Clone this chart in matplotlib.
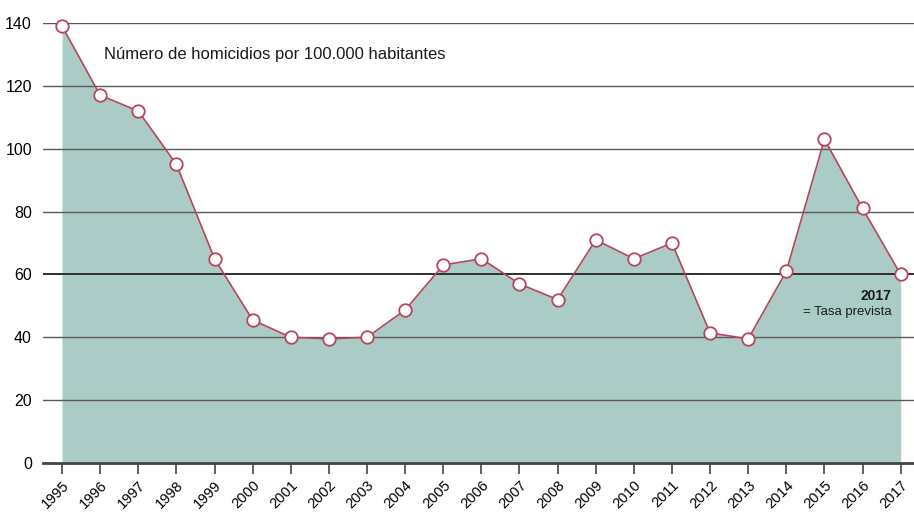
import matplotlib
matplotlib.use("Agg")
import matplotlib.pyplot as plt

plt.rcParams['font.family'] = ['Liberation Sans', 'DejaVu Sans']

# Datos
years = list(range(1995, 2018))
tasa = [139, 117, 112, 95, 65, 45.5, 40, 39.5, 40, 48.7, 63, 65, 57, 52,
        71, 65, 70, 41.4, 39.5, 61, 103, 81, 60]
yticks = [0, 20, 40, 60, 80, 100, 120, 140]

fill_color = "#abccc6"
line_color = "#b5475a"

fig = plt.figure(figsize=(9.14, 5.12), dpi=100)
ax = fig.add_axes([43 / 914, 1 - 463 / 512, 1 - 43 / 914, (463 - 23) / 512])

ax.fill_between(years, tasa, 0, color=fill_color, lw=0, zorder=1)

# lineas de la cuadricula por encima del area
for y in yticks[1:]:
    c = "#2e2e2e" if y == 60 else "#5a5a5a"
    ax.axhline(y, color=c, lw=1.0 if y != 60 else 1.4, zorder=2)

ax.plot(years, tasa, color=line_color, lw=1.2, zorder=3, clip_on=False)
ax.plot(years, tasa, "o", ms=9, mfc="white", mec=line_color, mew=1.3,
        zorder=4, clip_on=False)

ax.set_xlim(1994.5, 2017.35)
ax.set_ylim(0, 140)
for s in ["top", "right", "left"]:
    ax.spines[s].set_visible(False)
ax.spines["bottom"].set_color("#444444")
ax.spines["bottom"].set_linewidth(2)
ax.spines["bottom"].set_zorder(5)

ax.set_yticks(yticks)
ax.set_yticklabels([str(v) for v in yticks], fontsize=11.5)
ax.tick_params(axis="y", length=0, pad=8)
ax.set_xticks(years)
ax.set_xticklabels([str(y) for y in years], rotation=45, ha="right",
                   rotation_mode="anchor", fontsize=10.5)
ax.tick_params(axis="x", length=8, width=1.2, color="#444444", pad=3)

ax.text(1996.1, 130, "Número de homicidios por 100.000 habitantes",
        fontsize=12, va="center", ha="left", color="#1a1a1a")
ax.text(2016.75, 53, "2017", fontsize=10, fontweight="bold",
        ha="right", va="center", color="#1a1a1a")
ax.text(2016.75, 48, "= Tasa prevista", fontsize=9.5,
        ha="right", va="center", color="#1a1a1a")

fig.savefig("out.png", dpi=100)
